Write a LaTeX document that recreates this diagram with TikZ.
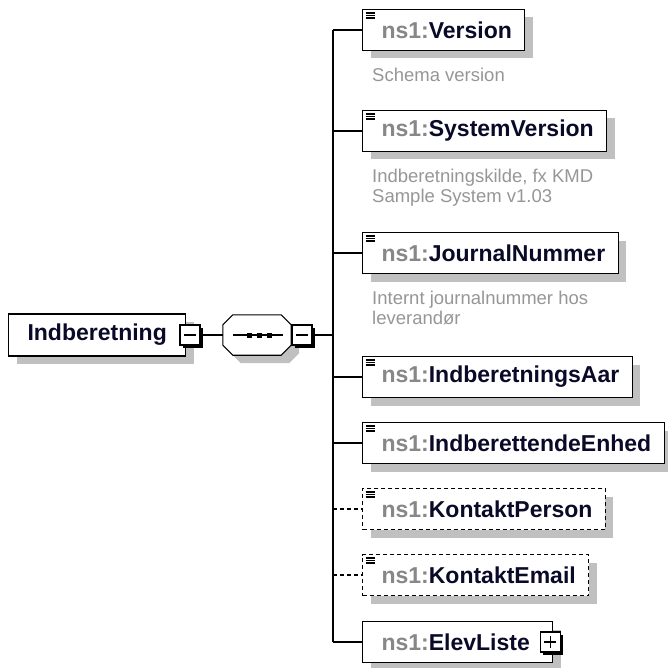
\documentclass[tikz,border=0pt]{standalone}
\usepackage{fontspec}
\setmainfont{Liberation Sans}
\usetikzlibrary{shadows, positioning, calc}

\begin{document}
\begin{tikzpicture}[x=1pt, y=-1pt]
  \newcommand\elleft{362}
  \newcommand\trunkx{333}
  \newcommand\rooty{335}
  \newcommand\descgap{17pt}
  \newcommand\descindent{10pt}
  \newcommand\chamfer{10}
  \newcommand\nsname[1]{{\color{nsgray}ns1:}#1}

  \definecolor{nsgray}{RGB}{135,135,135}
  \definecolor{descgray}{RGB}{150,150,150}
  \definecolor{shadowgray}{RGB}{192,192,192}
  \definecolor{namecol}{RGB}{10,10,40}

  \tikzset{boxshadow/.style={drop shadow={shadow xshift=8pt, shadow yshift=-8pt, opacity=1, fill=shadowgray}}}
  \tikzset{elbox/.style={draw, line width=1.1pt, fill=white, minimum height=41pt, inner xsep=13pt, inner ysep=0pt,
      text=namecol, font=\fontsize{23}{27}\selectfont\bfseries, boxshadow}}
  \tikzset{docicon/.style={elbox, path picture={
      \foreach \dy in {3.5, 6, 8.5}
        \draw[solid, line width=1.1pt] ([xshift=3pt, yshift=-\dy pt]path picture bounding box.north west) -- ++(9,0);}}}
  \tikzset{optbox/.style={docicon, dashed, dash pattern=on 4pt off 3pt}}
  \tikzset{rootbox/.style={elbox, minimum height=42pt, inner xsep=19pt}}
  \tikzset{togglebox/.style={draw, line width=1.2pt, fill=white, minimum width=20pt, minimum height=20pt, inner sep=0pt,
      drop shadow={shadow xshift=3pt, shadow yshift=-3pt, opacity=1, fill=black}}}
  \tikzset{minusbox/.style={togglebox, path picture={
      \draw[line width=1.1pt] ([xshift=4pt]path picture bounding box.west) -- ([xshift=-4pt]path picture bounding box.east);}}}
  \tikzset{plusbox/.style={togglebox, path picture={
      \draw[line width=1.1pt] ([xshift=4pt]path picture bounding box.west) -- ([xshift=-4pt]path picture bounding box.east);
      \draw[line width=1.1pt] ([yshift=-4pt]path picture bounding box.north) -- ([yshift=4pt]path picture bounding box.south);}}}
  \tikzset{seqbox/.style={minimum width=68pt, minimum height=40pt, inner sep=0pt}}
  \tikzset{seqline/.style={draw, line width=1.1pt, fill=white, boxshadow}}
  \tikzset{conn/.style={line width=1.2pt}}
  \tikzset{desc/.style={align=left, inner sep=0pt, text=descgray, font=\fontsize{18.5}{20}\selectfont}}

  \useasboundingbox (0,0) rectangle (667,668);

  % root and sequence
  \node[rootbox, anchor=west] (root) at (8, \rooty) {Indberetning\hspace{7pt}};
  \node[minusbox] (rootminus) at (190, \rooty) {};
  \node[seqbox] (seq) at (257, \rooty) {};
  \path[seqline] ([xshift=\chamfer pt]seq.north west) -- ([xshift=-\chamfer pt]seq.north east)
    -- ([yshift=-\chamfer pt]seq.north east) -- ([yshift=\chamfer pt]seq.south east)
    -- ([xshift=-\chamfer pt]seq.south east) -- ([xshift=\chamfer pt]seq.south west)
    -- ([yshift=\chamfer pt]seq.south west) -- ([yshift=-\chamfer pt]seq.north west) -- cycle;
  \node[minusbox] (seqminus) at (302, \rooty) {};
  \draw[line width=1.1pt] ([xshift=-24pt]seq.center) -- ([xshift=26pt]seq.center);
  \foreach \dx in {-8, 2, 12}{
    \fill ([xshift=\dx pt]seq.center) +(-2.5,-2.5) rectangle +(2.5,2.5);
  }
  \coordinate (trunk) at (\trunkx, \rooty);
  \draw[conn] (rootminus.east) -- (seq.west);
  \draw[conn] (seqminus.east) -- (trunk);

  % child elements
  \foreach \elname/\ypos/\style [count=\i] in {Version/30/docicon, SystemVersion/131/docicon, JournalNummer/253/docicon, IndberetningsAar/377/docicon, IndberettendeEnhed/443/docicon, KontaktPerson/509/optbox, KontaktEmail/575/optbox}{
    \node[\style, anchor=west] (el\i) at (\elleft, \ypos) {\hspace{6pt}\nsname{\elname}};
  }
  \node[elbox, anchor=west, text width=164pt, align=left] (el8) at (\elleft, 642) {\hspace*{6pt}\nsname{ElevListe}};
  \node[plusbox] (elplus) at ([xshift=-3pt]el8.east) {};

  \draw[conn] (trunk |- el1.west) -- (trunk |- el8.west);
  \foreach \i in {1, 2, 3, 4, 5, 8}{
    \draw[conn] (trunk |- el\i.west) -- (el\i.west);
  }
  \foreach \i in {6, 7}{
    \draw[conn, dashed, dash pattern=on 4pt off 3pt] (trunk |- el\i.west) -- (el\i.west);
  }

  % annotations
  \foreach \i/\desctext in {1/Schema version, 2/{Indberetningskilde, fx KMD\\Sample System v1.03}, 3/{Internt journalnummer hos\\leverandør}}{
    \node[desc, below right=\descgap and \descindent of el\i.south west] (desc\i) {\desctext};
  }
\end{tikzpicture}
\end{document}
